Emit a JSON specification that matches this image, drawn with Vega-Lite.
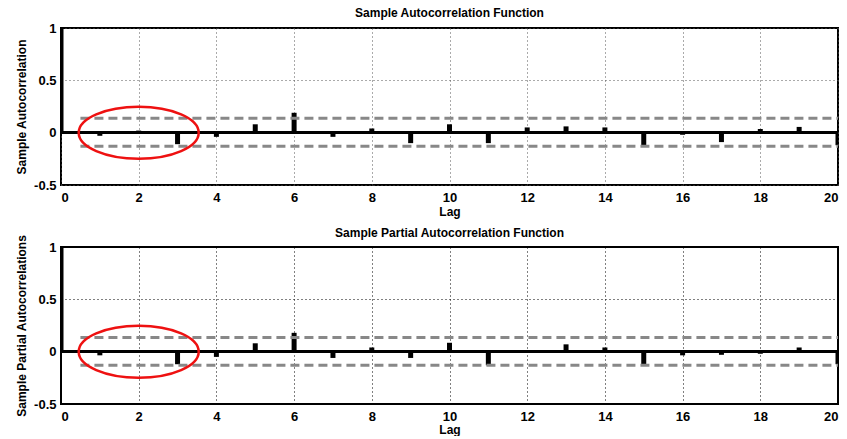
{
  "$schema": "https://vega.github.io/schema/vega-lite/v6.json",
  "background": "white",
  "padding": {"left": 14, "top": 6, "right": 0, "bottom": 0},
  "config": {
    "font": "Liberation Sans",
    "view": {"stroke": "black", "strokeWidth": 2},
    "scale": {"continuousPadding": 0},
    "axis": {
      "labelFont": "Liberation Sans", "labelFontWeight": "bold", "labelFontSize": 13, "labelColor": "black",
      "titleFont": "Liberation Sans", "titleFontWeight": "bold", "titleFontSize": 12, "titleColor": "black",
      "domain": false, "ticks": false,
      "gridColor": "black", "gridDash": [1, 3], "gridOpacity": 1, "gridWidth": 1
    },
    "title": {"font": "Liberation Sans", "fontSize": 12, "fontWeight": "bold", "color": "black"},
    "concat": {"spacing": 8}
  },
  "datasets": {
    "acf": [
      {"lag": 0, "value": 1}, {"lag": 1, "value": -0.03}, {"lag": 2, "value": 0.02}, {"lag": 3, "value": -0.11},
      {"lag": 4, "value": -0.04}, {"lag": 5, "value": 0.08}, {"lag": 6, "value": 0.19}, {"lag": 7, "value": -0.04},
      {"lag": 8, "value": 0.04}, {"lag": 9, "value": -0.10}, {"lag": 10, "value": 0.08}, {"lag": 11, "value": -0.10},
      {"lag": 12, "value": 0.05}, {"lag": 13, "value": 0.06}, {"lag": 14, "value": 0.05}, {"lag": 15, "value": -0.12},
      {"lag": 16, "value": -0.02}, {"lag": 17, "value": -0.09}, {"lag": 18, "value": 0.035}, {"lag": 19, "value": 0.055},
      {"lag": 20, "value": -0.12}
    ],
    "pacf": [
      {"lag": 0, "value": 1}, {"lag": 1, "value": -0.035}, {"lag": 2, "value": 0.01}, {"lag": 3, "value": -0.12},
      {"lag": 4, "value": -0.05}, {"lag": 5, "value": 0.08}, {"lag": 6, "value": 0.18}, {"lag": 7, "value": -0.06},
      {"lag": 8, "value": 0.04}, {"lag": 9, "value": -0.06}, {"lag": 10, "value": 0.085}, {"lag": 11, "value": -0.13},
      {"lag": 12, "value": 0.004}, {"lag": 13, "value": 0.07}, {"lag": 14, "value": 0.04}, {"lag": 15, "value": -0.13},
      {"lag": 16, "value": -0.035}, {"lag": 17, "value": -0.03}, {"lag": 18, "value": -0.02}, {"lag": 19, "value": 0.04},
      {"lag": 20, "value": -0.12}
    ],
    "bounds1": [{"lo": 0.5, "hi": 20, "b": 0.137}, {"lo": 0.5, "hi": 20, "b": -0.13}],
    "bounds2": [{"lo": 0.5, "hi": 20, "b": 0.135}, {"lo": 0.5, "hi": 20, "b": -0.13}],
    "mark": [{"lag": 2, "value": 0}]
  },
  "vconcat": [
    {
      "title": {"text": "Sample Autocorrelation Function", "offset": 2},
      "width": 777, "height": 157,
      "layer": [
        {
          "data": {"name": "acf"},
          "mark": {"type": "bar", "size": 5, "color": "black", "clip": true},
          "encoding": {
            "x": {"field": "lag", "type": "quantitative", "scale": {"domain": [0, 20], "nice": false, "padding": 0},
                  "axis": {"title": "Lag", "values": [0,2,4,6,8,10,12,14,16,18,20], "grid": true, "gridColor": "#555555", "labelPadding": 6, "titlePadding": 2}},
            "y": {"field": "value", "type": "quantitative", "scale": {"domain": [-0.5, 1], "nice": false, "padding": 0},
                  "axis": {"title": "Sample Autocorrelation", "values": [-0.5, 0, 0.5, 1], "grid": true, "gridColor": "#555555", "labelExpr": "'' + datum.value", "labelPadding": 5, "titlePadding": 5}}
          }
        },
        {
          "data": {"name": "acf"},
          "mark": {"type": "rule", "color": "black", "strokeWidth": 2},
          "encoding": {"y": {"datum": 0}}
        },
        {
          "data": {"name": "bounds1"},
          "mark": {"type": "rule", "color": "#888888", "strokeWidth": 3, "strokeDash": [9, 5]},
          "encoding": {"x": {"field": "lo", "type": "quantitative"}, "x2": {"field": "hi"}, "y": {"field": "b", "type": "quantitative"}}
        },
        {
          "data": {"name": "mark"},
          "mark": {"type": "point", "shape": "M -1 0 A 1 0.433 0 1 1 1 0 A 1 0.433 0 1 1 -1 0 Z", "size": 14400, "filled": false, "stroke": "#ee1111", "strokeWidth": 2.5, "opacity": 1},
          "encoding": {"x": {"field": "lag", "type": "quantitative"}, "y": {"field": "value", "type": "quantitative"}}
        }
      ]
    },
    {
      "title": {"text": "Sample Partial Autocorrelation Function", "offset": -6},
      "width": 777, "height": 157,
      "layer": [
        {
          "data": {"name": "pacf"},
          "mark": {"type": "bar", "size": 5, "color": "black", "clip": true},
          "encoding": {
            "x": {"field": "lag", "type": "quantitative", "scale": {"domain": [0, 20], "nice": false, "padding": 0},
                  "axis": {"title": "Lag", "values": [0,2,4,6,8,10,12,14,16,18,20], "grid": true, "labelPadding": 6, "titlePadding": 1}},
            "y": {"field": "value", "type": "quantitative", "scale": {"domain": [-0.5, 1], "nice": false, "padding": 0},
                  "axis": {"title": "Sample Partial Autocorrelations", "values": [-0.5, 0, 0.5, 1], "grid": true, "labelExpr": "'' + datum.value", "labelPadding": 5, "titlePadding": 5}}
          }
        },
        {
          "data": {"name": "pacf"},
          "mark": {"type": "rule", "color": "black", "strokeWidth": 2},
          "encoding": {"y": {"datum": 0}}
        },
        {
          "data": {"name": "bounds2"},
          "mark": {"type": "rule", "color": "#888888", "strokeWidth": 3, "strokeDash": [9, 5]},
          "encoding": {"x": {"field": "lo", "type": "quantitative"}, "x2": {"field": "hi"}, "y": {"field": "b", "type": "quantitative"}}
        },
        {
          "data": {"name": "mark"},
          "mark": {"type": "point", "shape": "M -1 0 A 1 0.433 0 1 1 1 0 A 1 0.433 0 1 1 -1 0 Z", "size": 14400, "filled": false, "stroke": "#ee1111", "strokeWidth": 2.5, "opacity": 1},
          "encoding": {"x": {"field": "lag", "type": "quantitative"}, "y": {"field": "value", "type": "quantitative"}}
        }
      ]
    }
  ]
}
